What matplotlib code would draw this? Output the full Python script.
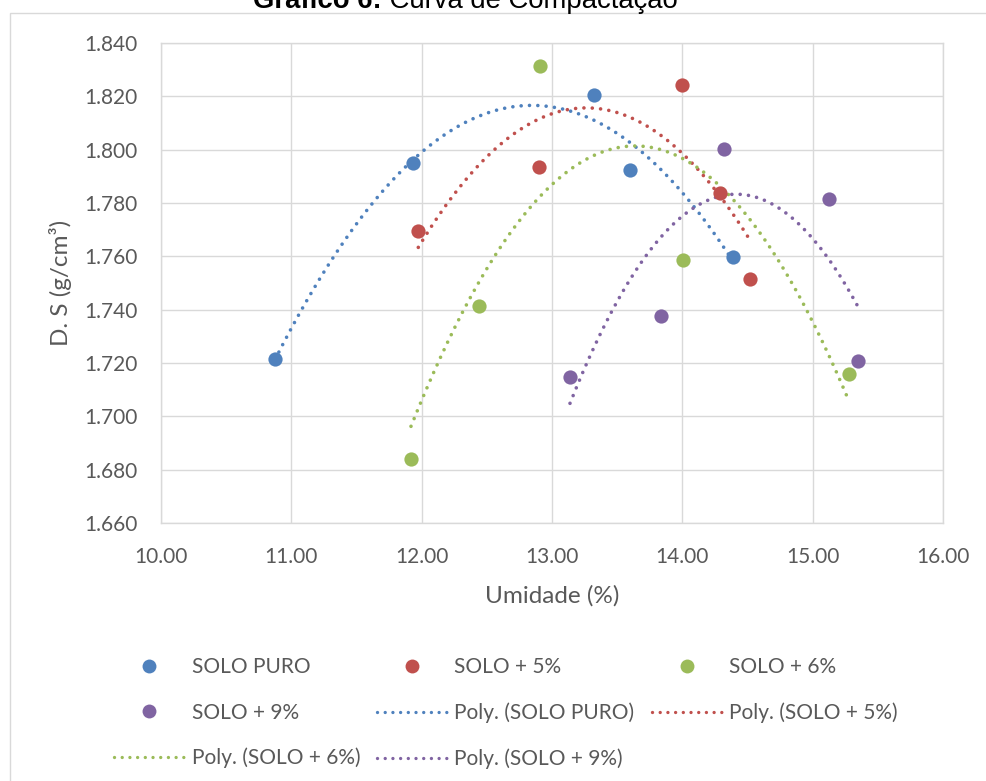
import numpy as np
import matplotlib.pyplot as plt
from matplotlib.lines import Line2D
from matplotlib.patches import Rectangle
from matplotlib.ticker import FormatStrFormatter, MultipleLocator

# Umidade (%) x D. S (g/cm3)
puro_x = [10.875, 11.931, 13.325, 13.600, 14.391]
puro_y = [1.7215, 1.7950, 1.8204, 1.7923, 1.7596]
s5_x = [11.974, 12.903, 13.995, 14.291, 14.519]
s5_y = [1.7696, 1.7933, 1.8240, 1.7836, 1.7516]
s6_x = [11.918, 12.440, 12.909, 14.008, 15.282]
s6_y = [1.6840, 1.7413, 1.8312, 1.7585, 1.7160]
s9_x = [13.138, 13.836, 14.317, 15.123, 15.348]
s9_y = [1.7148, 1.7375, 1.8003, 1.7816, 1.7208]

names = ["SOLO PURO", "SOLO + 5%", "SOLO + 6%", "SOLO + 9%"]
colors = ["#4F81BD", "#C0504D", "#9BBB59", "#8064A2"]
series = [(puro_x, puro_y), (s5_x, s5_y), (s6_x, s6_y), (s9_x, s9_y)]

TXT = "#595959"
GRID = "#d9d9d9"
FONT = "Lato"
DOTS = (0, (0.01, 2.3))

fig = plt.figure(figsize=(9.86, 7.81), dpi=100)
ax = fig.add_axes([0.1633, 0.33, 0.7931, 0.6153])

for (x, y), c in zip(series, colors):
    x = np.array(x)
    y = np.array(y)
    # excel style polynomial (order 2) trendline
    coef = np.polyfit(x, y, 2)
    xs = np.linspace(x.min(), x.max(), 300)
    ax.plot(xs, np.polyval(coef, xs), color=c, lw=2.6, ls=DOTS,
            dash_capstyle="round", zorder=2)
    ax.scatter(x, y, s=105, color=c, zorder=3, linewidths=0)

ax.set_xlim(10, 16)
ax.set_ylim(1.66, 1.84)
ax.xaxis.set_major_locator(MultipleLocator(1))
ax.yaxis.set_major_locator(MultipleLocator(0.02))
ax.xaxis.set_major_formatter(FormatStrFormatter("%.2f"))
ax.yaxis.set_major_formatter(FormatStrFormatter("%.3f"))
ax.grid(True, color=GRID, lw=1.0)
ax.set_axisbelow(True)
for sp in ax.spines.values():
    sp.set_color(GRID)
    sp.set_linewidth(1.0)
ax.tick_params(length=0, labelsize=15, labelcolor=TXT, pad=17)
for lab in ax.get_xticklabels() + ax.get_yticklabels():
    lab.set_family(FONT)

ax.set_xlabel("Umidade (%)", fontsize=17.5, color=TXT, family=FONT, labelpad=13)
ax.set_ylabel("D. S (g/cm³)", fontsize=17.5, color=TXT, family=FONT, labelpad=9)

# legend, filled row by row like excel
pts = [Line2D([], [], ls="none", marker="o", ms=10, color=c, mec="none") for c in colors]
lns = [Line2D([], [], color=c, lw=2.4, ls=DOTS, dash_capstyle="round") for c in colors]
lab_pts = names
lab_lns = ["Poly. (%s)" % n for n in names]
handles = [pts[0], pts[3], lns[2], pts[1], lns[0], lns[3], pts[2], lns[1]]
labels = [lab_pts[0], lab_pts[3], lab_lns[2], lab_pts[1], lab_lns[0], lab_lns[3],
          lab_pts[2], lab_lns[1]]
leg = fig.legend(handles, labels, ncol=3, loc="upper left",
                 bbox_to_anchor=(104 / 986, 1 - 647 / 781), frameon=False,
                 borderpad=0, handlelength=3.36, handletextpad=0.34,
                 columnspacing=0.82, labelspacing=1.21, numpoints=1,
                 prop={"family": FONT, "size": 15})
for t in leg.get_texts():
    t.set_color(TXT)

# title (cut at the top in the original)
t1 = fig.text(253 / 986, 1 - 7.5 / 781, "Gráfico 6:", fontsize=19.8,
              fontweight="bold", family="Liberation Sans", va="baseline")
fig.add_artist(plt.Annotation(" Curva de Compactação", xy=(1, 0), xycoords=t1,
                              va="bottom", ha="left", fontsize=19.8,
                              family="Liberation Sans"))

# chart frame
fig.add_artist(Rectangle((10 / 986, -0.1), 1.5, 1 - 13.3 / 781 + 0.1,
                         transform=fig.transFigure, fill=False, ec=GRID, lw=1.0))

fig.savefig("out.png", dpi=100)
